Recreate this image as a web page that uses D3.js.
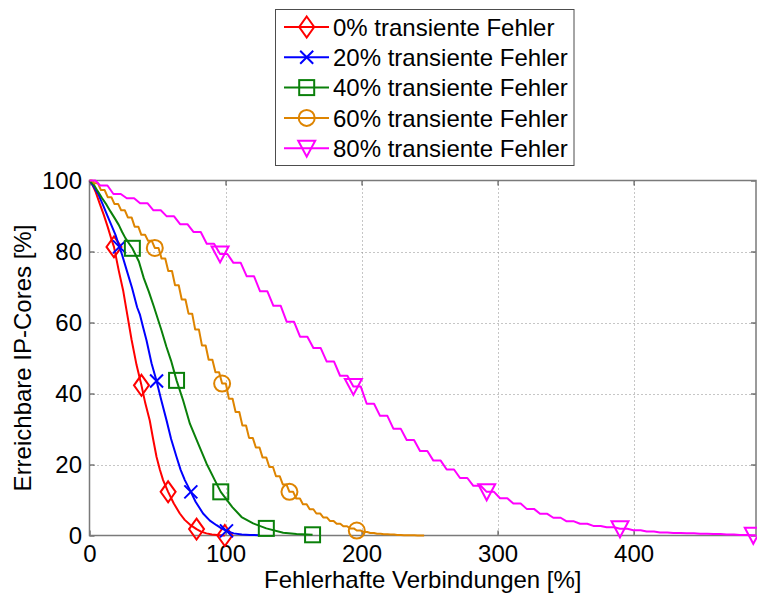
<!DOCTYPE html>
<html>
<head>
<meta charset="utf-8">
<script src="https://cdn.jsdelivr.net/npm/d3@7"></script>
<style>
  html, body { margin: 0; padding: 0; background: #fff; }
  svg { display: block; }
  text { font-family: "Liberation Sans", Arial, Helvetica, sans-serif; fill: #000; }
</style>
</head>
<body>
<svg id="chart" width="757" height="599"></svg>
<script>
// ---- data: Fehlerhafte Verbindungen [%] (x) vs. Erreichbare IP-Cores [%] (y) ----
const seriesLabels = ["0% transiente Fehler", "20% transiente Fehler", "40% transiente Fehler",
                      "60% transiente Fehler", "80% transiente Fehler"];

const x0 = [0, 2, 4.4, 7.5, 10.5, 13.5, 16, 18, 21.5, 24.7, 27.2, 30.9, 34.6, 38.2, 41, 44.3, 46.8, 49.3,
            51.7, 54.1, 57.8, 62, 66.4, 70, 74, 78.7, 82, 86, 90, 95.8, 99.5];
const y0 = [100, 98.9, 96.9, 93.5, 90.3, 86.8, 83.6, 81.3, 74.6, 69.1, 63.5, 55.2, 48, 42.3, 37.3, 32.4, 27.1, 22.1,
            18.6, 15.6, 12.3, 9, 6.2, 4.4, 3, 1.8, 1.1, 0.6, 0.3, 0.1, 0];
const marks0 = [18, 38.2, 57.8, 78.7, 99.5];

const x20 = [0, 3, 6.8, 9.8, 12.9, 16, 19.1, 22, 24, 27.6, 31.3, 35, 37, 39.5, 41.9, 45.6, 49.3, 52.5, 56.6,
             60, 64, 67, 70.1, 74.5, 78, 83.5, 88.5, 93.4, 97, 100.7, 106, 112, 118, 125];
const y20 = [100, 98.3, 95.9, 93.2, 90.3, 87.5, 84.7, 81.3, 79, 74.4, 69.7, 64.3, 62.3, 58.5, 55, 48.5, 43.5, 38.5, 32.5,
             27.2, 22.1, 18.5, 15.6, 12.3, 9.5, 6.2, 4.2, 2.9, 2, 1.3, 0.6, 0.3, 0.15, 0.1];
const marks20 = [22, 49.3, 74.5, 100.7];

const x40 = [0, 3.2, 6, 9.3, 12.5, 15.4, 18.5, 21.5, 24, 26.5, 31.5, 36.3, 39.9, 43.6, 47.3, 52.9, 56.6, 60, 64,
             68.8, 73.8, 79.9, 86, 92.1, 96.5, 105, 111.8, 120.3, 130, 142.4, 152.2, 164];
const y40 = [100, 98.8, 97, 95, 93.2, 91.3, 89.4, 87.5, 85.5, 83.7, 80.9, 77.2, 72.5, 68.7, 64.5, 57.8, 53.1, 49.2, 43.7,
             38.1, 31.5, 25.9, 20.3, 15.6, 12.3, 8, 5.2, 3.4, 2, 0.8, 0.4, 0.2];
const marks40 = [31.5, 64, 96.5, 130, 164];

const x60 = [0, 3.5, 8.4, 13.4, 18.3, 23.3, 28.2, 33.2, 38.1, 43.1, 48, 53, 57.9, 62.9, 67.8, 72.8, 77.7, 82.7,
             87.6, 92.6, 97.5, 102.5, 107.4, 112.4, 117.3, 122.3, 127.2, 132.2, 137.1, 142.1, 147, 152, 156.9,
             161.9, 166.8, 171.8, 176.7, 181.7, 186.6, 191.6, 196.5, 201.5, 206.4, 211.4, 216.3, 221.3, 226.2,
             231.2, 236.1, 241.1, 246];
const y60 = [100, 99.2, 97.3, 95.3, 93.4, 91.6, 89.6, 87, 84.7, 83, 81, 78, 74.5, 70.5, 66.5, 62.5, 58, 53.5,
             49.5, 46, 42.8, 38.5, 34.8, 31, 27.5, 24.8, 22, 19.3, 16.7, 14.4, 12.3, 10.4, 8.8,
             7.4, 6.2, 5.1, 4.1, 3.3, 2.6, 2, 1.4, 1, 0.7, 0.5, 0.35, 0.25, 0.15,
             0.1, 0.05, 0, 0];
const marks60 = [48, 97.5, 147, 196.5];

const x80 = [0, 7.8, 17.6, 27.4, 37.2, 47, 56.8, 66.6, 76.4, 86.2, 96, 105.8, 115.6, 125.4, 135.2, 145, 154.8,
             164.6, 174.4, 184.2, 194, 203.8, 213.6, 223.4, 233.2, 243, 252.8, 262.6, 272.4, 282.2, 292, 301.8,
             311.6, 321.4, 331.2, 341, 350.8, 360.6, 370.4, 380.2, 390, 399.8, 409.6, 419.4, 429.2, 439, 448.8,
             458.6, 468.4, 478.2, 488, 490];
const y80 = [100, 98.6, 96.2, 95, 93.6, 91.6, 89.9, 87.7, 85.5, 82.2, 79.3, 76.8, 73, 68.8, 64.7, 60.2, 56,
             52.8, 49, 45, 42, 37.1, 33.7, 30.1, 26.9, 23.8, 21.1, 18.6, 16.2, 14, 12.3, 10.5,
             9, 7.5, 6.1, 5, 4, 3.3, 2.7, 2.3, 1.9, 1.5, 1.1, 0.85, 0.7, 0.6, 0.5,
             0.4, 0.3, 0.15, 0.05, 0];
const marks80 = [96, 194, 292, 390, 488];

const xTicks = [0, 100, 200, 300, 400];
const yTicks = [0, 20, 40, 60, 80, 100];

// ---- layout ----
const svg = d3.select("#chart");
const plot = { left: 89.5, right: 756, top: 180.5, bottom: 535.5 };
const x = d3.scaleLinear().domain([0, 490]).range([plot.left, plot.right]);
const y = d3.scaleLinear().domain([0, 100]).range([plot.bottom, plot.top]);

const zip = (xs, ys) => xs.map((v, i) => [v, ys[i]]);

// a line that holds each value for part of the step, then ramps to the next sample
function holdRamp(context) {
  return {
    lineStart() { this._p = 0; },
    lineEnd() {},
    areaStart() {}, areaEnd() {},
    point(px, py) {
      if (this._p === 0) { this._p = 1; context.moveTo(px, py); }
      else {
        context.lineTo(this._x + (px - this._x) * 0.55, this._y);
        context.lineTo(px, py);
      }
      this._x = px; this._y = py;
    }
  };
}

const series = [
  { label: seriesLabels[0], pts: zip(x0, y0), marks: marks0, color: "#ff0000", marker: "diamond", curve: d3.curveLinear },
  { label: seriesLabels[1], pts: zip(x20, y20), marks: marks20, color: "#0000ff", marker: "cross", curve: d3.curveLinear },
  { label: seriesLabels[2], pts: zip(x40, y40), marks: marks40, color: "#0a800a", marker: "square", curve: d3.curveLinear },
  { label: seriesLabels[3], pts: zip(x60, y60), marks: marks60, color: "#de8400", marker: "circle", curve: holdRamp },
  { label: seriesLabels[4], pts: zip(x80, y80), marks: marks80, color: "#ff00ff", marker: "triangle", curve: holdRamp }
];

// ---- grid ----
const grid = svg.append("g").attr("stroke", "#8c8c8c").attr("stroke-width", 1).attr("stroke-dasharray", "1,3");
grid.selectAll("line.gx").data(xTicks.filter(d => d > 0)).join("line")
  .attr("x1", d => Math.round(x(d)) + 0.5).attr("x2", d => Math.round(x(d)) + 0.5)
  .attr("y1", plot.top).attr("y2", plot.bottom);
grid.selectAll("line.gy").data(yTicks.filter(d => d > 0 && d < 100)).join("line")
  .attr("y1", d => Math.round(y(d)) + 0.5).attr("y2", d => Math.round(y(d)) + 0.5)
  .attr("x1", plot.left).attr("x2", plot.right);

// ---- axes (ticks pointing inward on all four sides) ----
const fontSize = 24;
const axB = svg.append("g").attr("transform", `translate(0,${plot.bottom})`)
  .call(d3.axisBottom(x).tickValues(xTicks).tickSizeInner(-5).tickSizeOuter(0).tickPadding(9));
const axL = svg.append("g").attr("transform", `translate(${plot.left},0)`)
  .call(d3.axisLeft(y).tickValues(yTicks).tickSizeInner(-5).tickSizeOuter(0).tickPadding(7.5));
const axT = svg.append("g").attr("transform", `translate(0,${plot.top})`)
  .call(d3.axisTop(x).tickValues(xTicks).tickSizeInner(-5).tickSizeOuter(0).tickFormat(""));
const axR = svg.append("g").attr("transform", `translate(${plot.right},0)`)
  .call(d3.axisRight(y).tickValues(yTicks).tickSizeInner(-5).tickSizeOuter(0).tickFormat(""));
[axB, axL, axT, axR].forEach(g => {
  g.select(".domain").remove();
  g.selectAll(".tick line").attr("stroke", "#333");
  g.selectAll("text").attr("font-size", fontSize).attr("font-family", "Liberation Sans, Arial, sans-serif").attr("fill", "#000");
});

svg.append("rect")
  .attr("x", plot.left).attr("y", plot.top)
  .attr("width", plot.right - plot.left).attr("height", plot.bottom - plot.top)
  .attr("fill", "none").attr("stroke", "#7a7a7a").attr("stroke-width", 1.5);

// ---- markers ----
function drawMarker(g, type, color, cx, cy) {
  const s = { fill: "none", stroke: color, "stroke-width": 2 };
  let el;
  if (type === "diamond") {
    el = g.append("path").attr("d", `M${cx},${cy - 10.5}L${cx + 7.5},${cy}L${cx},${cy + 10.5}L${cx - 7.5},${cy}Z`);
  } else if (type === "cross") {
    el = g.append("path").attr("d", `M${cx - 6.5},${cy - 6.5}L${cx + 6.5},${cy + 6.5}M${cx - 6.5},${cy + 6.5}L${cx + 6.5},${cy - 6.5}`);
  } else if (type === "square") {
    el = g.append("rect").attr("x", cx - 7.5).attr("y", cy - 7.5).attr("width", 15).attr("height", 15);
  } else if (type === "circle") {
    el = g.append("circle").attr("cx", cx).attr("cy", cy).attr("r", 8);
  } else {
    el = g.append("path").attr("d", `M${cx - 8.5},${cy - 7.5}L${cx + 8.5},${cy - 7.5}L${cx},${cy + 8.5}Z`);
  }
  Object.entries(s).forEach(([k, v]) => el.attr(k, v));
}

// ---- lines ----
series.forEach(s => {
  const g = svg.append("g");
  const line = d3.line().x(d => x(d[0])).y(d => y(d[1])).curve(s.curve);
  g.append("path").datum(s.pts)
    .attr("d", line).attr("fill", "none").attr("stroke", s.color)
    .attr("stroke-width", 2).attr("stroke-linejoin", "round");
  s.marks.forEach(mx => {
    const p = s.pts.find(d => d[0] === mx);
    drawMarker(g, s.marker, s.color, x(p[0]), y(p[1]));
  });
});

// ---- axis titles ----
svg.append("text")
  .attr("x", (plot.left + plot.right) / 2).attr("y", 588)
  .attr("text-anchor", "middle").attr("font-size", fontSize)
  .text("Fehlerhafte Verbindungen [%]");
svg.append("text")
  .attr("transform", `translate(31,${(plot.top + plot.bottom) / 2}) rotate(-90)`)
  .attr("text-anchor", "middle").attr("font-size", fontSize)
  .text("Erreichbare IP-Cores [%]");

// ---- legend ----
const leg = svg.append("g");
leg.append("rect").attr("x", 275.5).attr("y", 9.5).attr("width", 298.5).attr("height", 156)
  .attr("fill", "#fff").attr("stroke", "#4d4d4d").attr("stroke-width", 1);
series.forEach((s, i) => {
  const cy = 27 + i * 30.3;
  leg.append("line").attr("x1", 284).attr("x2", 329).attr("y1", cy).attr("y2", cy)
    .attr("stroke", s.color).attr("stroke-width", 2);
  drawMarker(leg, s.marker, s.color, 306.7, cy);
  leg.append("text").attr("x", 333).attr("y", cy).attr("dy", "0.36em")
    .attr("font-size", fontSize).text(s.label);
});
</script>
</body>
</html>
